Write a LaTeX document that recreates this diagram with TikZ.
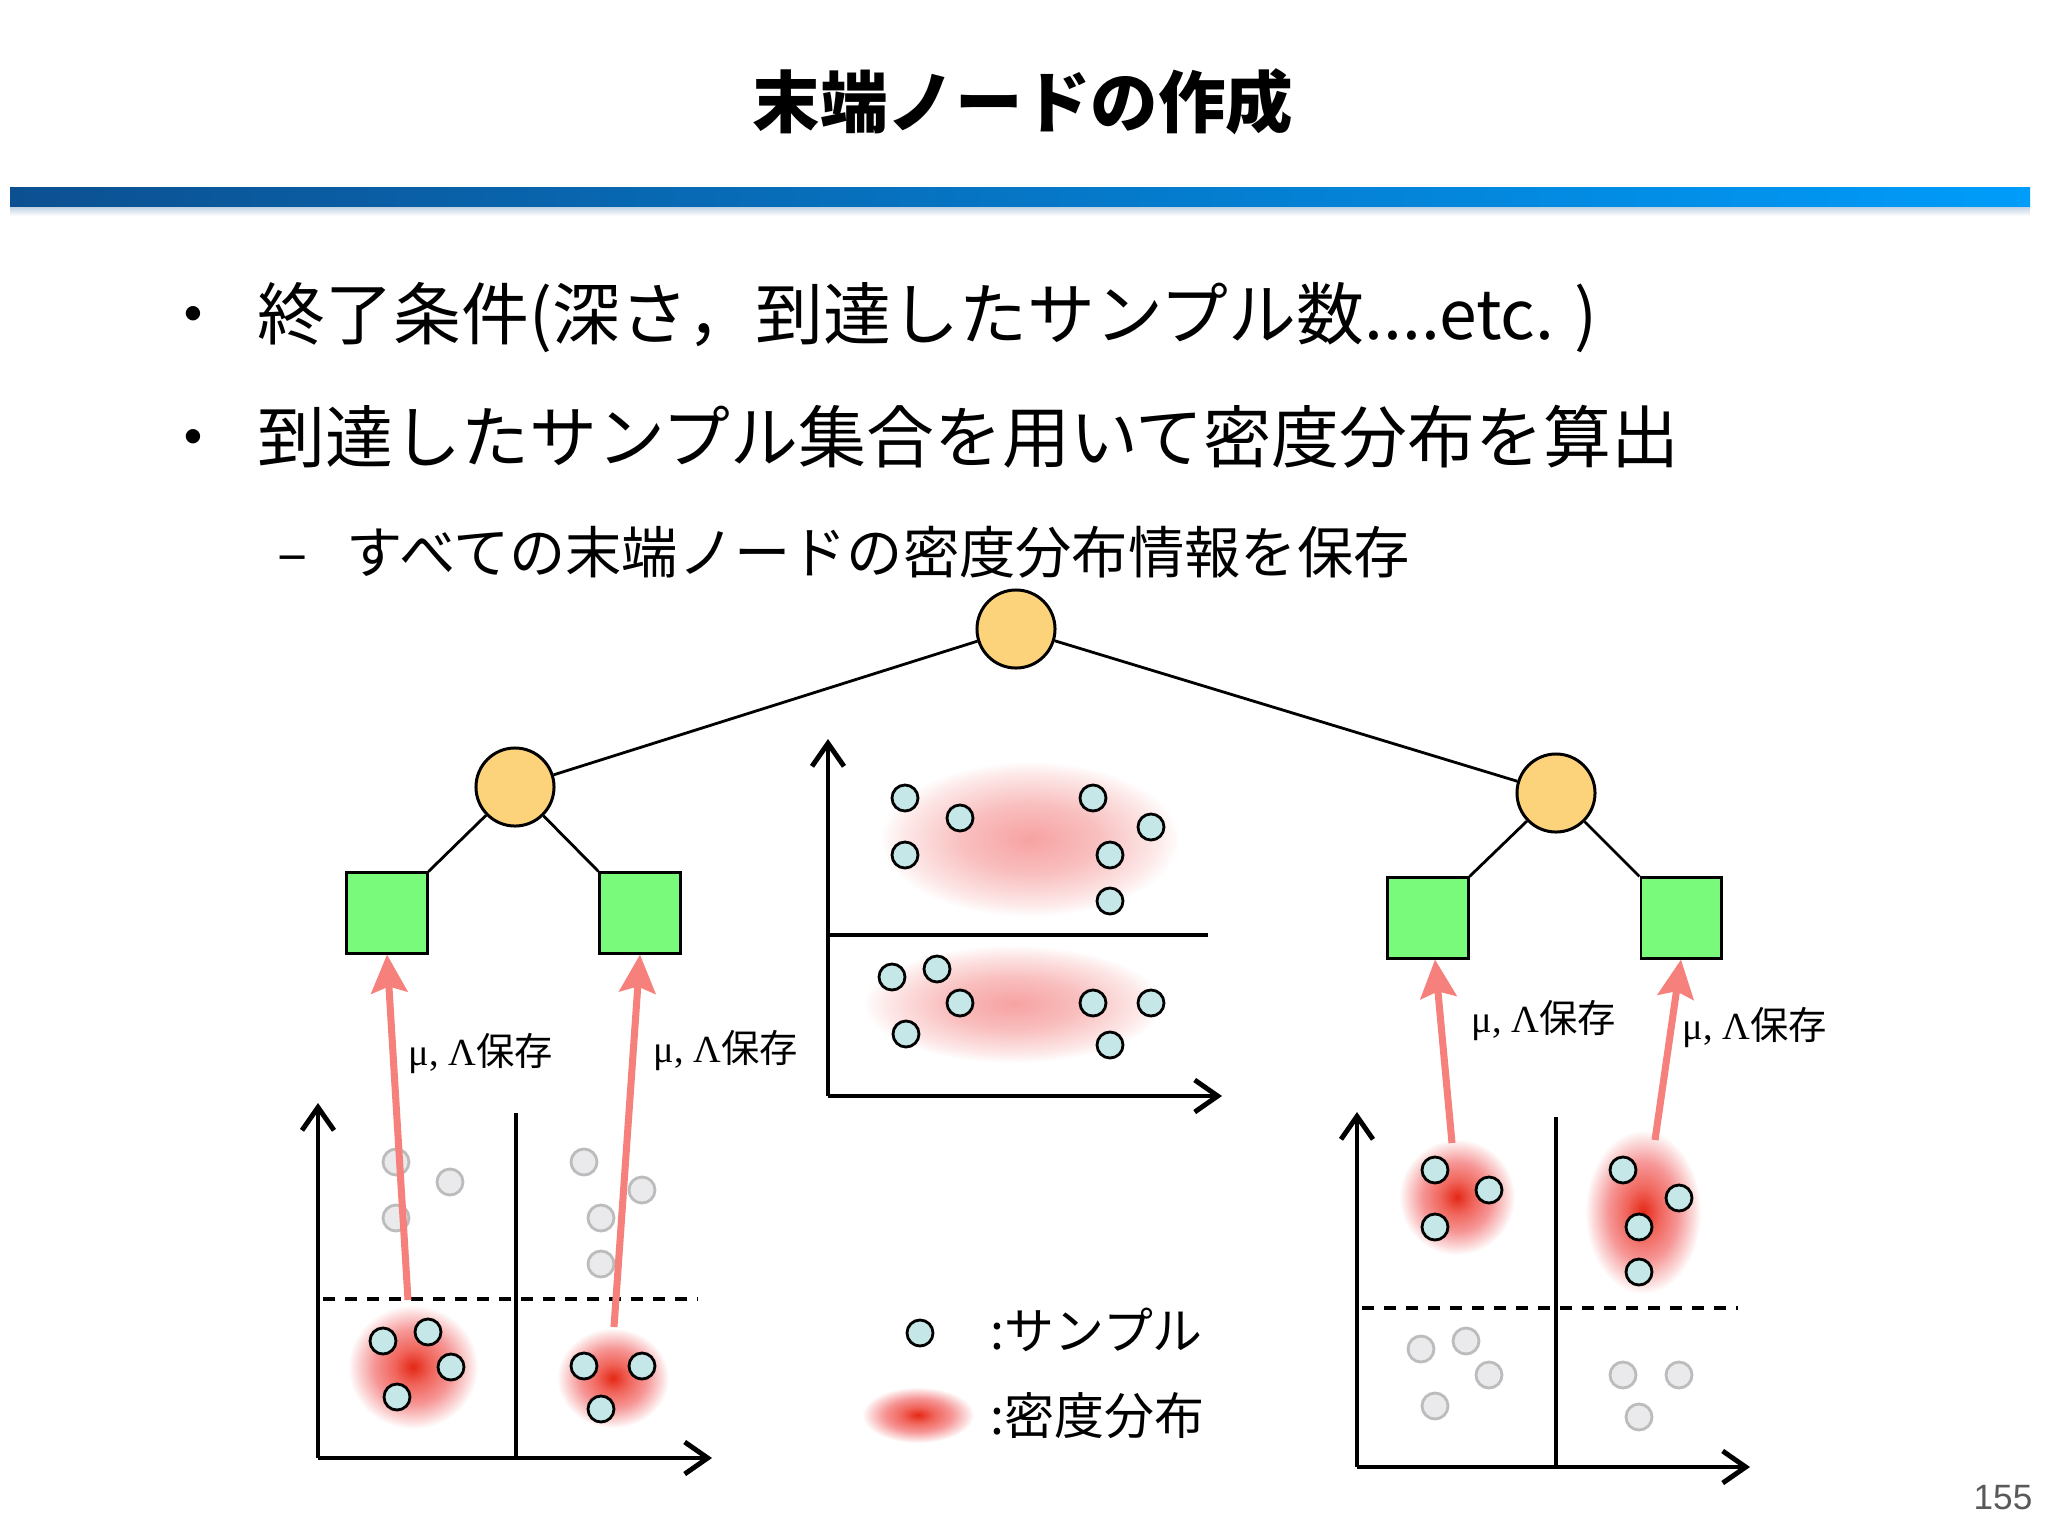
\documentclass[tikz,border=0pt]{standalone}
\usepackage{fontspec}
\setmainfont{Noto Sans CJK JP}
\newfontfamily\grkfont{Liberation Serif}
\newfontfamily\numfont{Liberation Sans}
\usetikzlibrary{arrows.meta}
\definecolor{barleft}{RGB}{12,80,145}
\definecolor{barright}{RGB}{0,156,250}
\definecolor{innerfill}{RGB}{252,211,122}
\definecolor{leaffill}{RGB}{122,250,122}
\definecolor{sampfill}{RGB}{197,231,231}
\definecolor{fadefill}{RGB}{234,234,236}
\definecolor{fadeline}{RGB}{188,188,188}
\definecolor{saveline}{RGB}{246,128,124}
\definecolor{wk0}{RGB}{247,162,162}
\definecolor{wk1}{RGB}{249,190,190}
\definecolor{wk2}{RGB}{253,232,232}
\definecolor{st0}{RGB}{228,40,22}
\definecolor{st1}{RGB}{240,100,90}
\definecolor{st2}{RGB}{246,150,150}
\definecolor{st3}{RGB}{252,222,222}
\pgfdeclareradialshading{weakblob}{\pgfpointorigin}{color(0bp)=(wk0); color(11bp)=(wk1); color(21bp)=(wk2); color(25bp)=(white); color(50bp)=(white)}
\pgfdeclareradialshading{strongblob}{\pgfpointorigin}{color(0bp)=(st0); color(7bp)=(st1); color(15bp)=(st2); color(22bp)=(st3); color(25bp)=(white); color(50bp)=(white)}
\newcommand\titlesize{\fontsize{19.2pt}{23pt}\selectfont\bfseries}
\newcommand\bodysize{\fontsize{19.3pt}{23pt}\selectfont}
\newcommand\subsize{\fontsize{16pt}{19pt}\selectfont}
\newcommand\lblsize{\fontsize{10.9pt}{13pt}\selectfont}
\newcommand\legsize{\fontsize{14.2pt}{17pt}\selectfont}

\begin{document}
\begin{tikzpicture}[>={Straight Barb[length=0.23cm,width=0.32cm]}, x=0.01cm, y=-0.01cm,
  inner/.style={circle, draw, line width=0.85pt, fill=innerfill, minimum size=0.78cm, inner sep=0pt},
  leaf/.style={rectangle, draw, line width=0.85pt, fill=leaffill, minimum size=0.8cm, inner sep=0pt},
  sample/.style={circle, draw, line width=0.8pt, fill=sampfill, minimum size=0.26cm, inner sep=0pt},
  faded/.style={circle, draw=fadeline, line width=0.8pt, fill=fadefill, minimum size=0.26cm, inner sep=0pt},
  edge/.style={line width=0.8pt},
  axis/.style={line width=1.4pt, ->},
  split/.style={line width=1.4pt},
  cut/.style={line width=1.1pt, dash pattern=on 0.12cm off 0.1cm},
  save/.style={line width=2pt, draw=saveline, -{Stealth[length=0.38cm, width=0.36cm, inset=0.06cm, fill=saveline]}},
  txt/.style={inner sep=0pt}]
\fill[white] (0,0) rectangle (2048,1536);
\useasboundingbox (0,0) rectangle (2048,1536);
% title and bar
\node[txt, anchor=base, font=\titlesize] (title) at (1023,127) {末端ノードの作成};
\shade[left color=barleft, right color=barright] (10,187) rectangle (2030,207);
\shade[top color=barleft!25, bottom color=white] (10,207) rectangle (2030,216);
% bullets
\node[txt, anchor=base, font=\bodysize] (d1) at (193,339) {・};
\node[txt, anchor=base west, font=\bodysize] (b1) at (257,339) {終了条件(深さ，到達したサンプル数....etc. )};
\node[txt, anchor=base, font=\bodysize] (d2) at (193,462) {・};
\node[txt, anchor=base west, font=\bodysize] (b2) at (257,462) {到達したサンプル集合を用いて密度分布を算出};
\node[txt, anchor=base, font=\subsize] (d3) at (293,573) {–};
\node[txt, anchor=base west, font=\subsize] (b3) at (346,573) {すべての末端ノードの密度分布情報を保存};
% tree
\node[inner] (root) at (1016,629) {};
\node[inner] (cl) at (515,787) {};
\node[inner] (cr) at (1556,793) {};
\node[leaf] (sq1) at (387,913) {};
\node[leaf] (sq2) at (640,913) {};
\node[leaf] (sq3) at (1428,918) {};
\node[leaf] (sq4) at (1681,918) {};
\draw[edge] (root) -- (cl) (root) -- (cr);
\draw[edge] (cl) -- (sq1.north east) (cl) -- (sq2.north west);
\draw[edge] (cr) -- (sq3.north east) (cr) -- (sq4.north west);
% middle plot
\shade[shading=weakblob] (1030,839) ellipse [x radius=150, y radius=78];
\shade[shading=weakblob] (1013,1004) ellipse [x radius=150, y radius=59];
\coordinate (O2) at (828,1096);
\draw[axis] (O2) -- (828,739);
\draw[axis] (O2) -- (1222,1096);
\draw[split] (828,935) -- (1208,935);
\node[sample] (m1) at (905,798) {}; \node[sample] (m2) at (960,818) {}; \node[sample] (m3) at (905,855) {};
\node[sample] (m4) at (1093,798) {}; \node[sample] (m5) at (1151,827) {}; \node[sample] (m6) at (1110,855) {};
\node[sample] (m7) at (1110,901) {};
\node[sample] (m8) at (892,977) {}; \node[sample] (m9) at (937,969) {}; \node[sample] (m10) at (960,1003) {};
\node[sample] (m11) at (906,1034) {}; \node[sample] (m12) at (1093,1003) {}; \node[sample] (m13) at (1151,1003) {};
\node[sample] (m14) at (1110,1045) {};
% left plot
\shade[shading=strongblob] (413,1367) ellipse [x radius=65, y radius=62];
\shade[shading=strongblob] (613,1378) ellipse [x radius=56, y radius=50];
\coordinate (O1) at (318,1458);
\draw[axis] (O1) -- (318,1103);
\draw[axis] (O1) -- (712,1458);
\draw[split] (516,1113) -- (516,1458);
\draw[cut] (323,1299) -- (698,1299);
\node[faded] (g1) at (396,1162) {}; \node[faded] (g2) at (450,1182) {}; \node[faded] (g3) at (396,1218) {};
\node[faded] (g4) at (584,1162) {}; \node[faded] (g5) at (642,1190) {}; \node[faded] (g6) at (601,1218) {};
\node[faded] (g7) at (601,1264) {};
\node[sample] (l1) at (383,1341) {}; \node[sample] (l2) at (428,1332) {}; \node[sample] (l3) at (451,1367) {};
\node[sample] (l4) at (397,1397) {};
\node[sample] (l5) at (584,1366) {}; \node[sample] (l6) at (642,1366) {}; \node[sample] (l7) at (601,1409) {};
% right plot
\shade[shading=strongblob] (1457,1197) ellipse [x radius=58, y radius=58];
\shade[shading=strongblob] (1643,1212) ellipse [x radius=58, y radius=82];
\coordinate (O3) at (1357,1467);
\draw[axis] (O3) -- (1357,1112);
\draw[axis] (O3) -- (1750,1467);
\draw[split] (1556,1117) -- (1556,1467);
\draw[cut] (1362,1308) -- (1738,1308);
\node[sample] (r1) at (1435,1170) {}; \node[sample] (r2) at (1489,1190) {}; \node[sample] (r3) at (1435,1227) {};
\node[sample] (r4) at (1623,1170) {}; \node[sample] (r5) at (1679,1198) {}; \node[sample] (r6) at (1639,1227) {};
\node[sample] (r7) at (1639,1272) {};
\node[faded] (h1) at (1421,1349) {}; \node[faded] (h2) at (1466,1341) {}; \node[faded] (h3) at (1489,1375) {};
\node[faded] (h4) at (1435,1406) {};
\node[faded] (h5) at (1623,1375) {}; \node[faded] (h6) at (1679,1375) {}; \node[faded] (h7) at (1639,1417) {};
% save arrows
\coordinate (a1) at (408,1300);
\coordinate (a2) at (614,1327);
\coordinate (a3) at (1452,1143);
\coordinate (a4) at (1655,1140);
\draw[save] (a1) -- (sq1.south);
\draw[save] (a2) -- (sq2.south);
\draw[save] (a3) -- ([xshift=0.07cm]sq3.south);
\draw[save] (a4) -- (sq4.south);
\node[font=\lblsize, txt] (t1) at (481,1053) {{\grkfont μ, Λ}保存};
\node[font=\lblsize, txt] (t2) at (726,1050) {{\grkfont μ, Λ}保存};
\node[font=\lblsize, txt] (t3) at (1544,1020) {{\grkfont μ, Λ}保存};
\node[font=\lblsize, txt] (t4) at (1755,1027) {{\grkfont μ, Λ}保存};
% legend
\node[sample] (ks) at (920,1333) {};
\node[txt, anchor=base west, font=\legsize] (kt1) at (990,1349) {:サンプル};
\shade[shading=strongblob] (918,1415) ellipse [x radius=56, y radius=28];
\node[txt, anchor=base west, font=\legsize] (kt2) at (990,1434) {:密度分布};
% page
\node[font=\numfont\fontsize{10pt}{12pt}\selectfont, text=black!65] (pg) at (2003,1498) {155};
\end{tikzpicture}
\end{document}
